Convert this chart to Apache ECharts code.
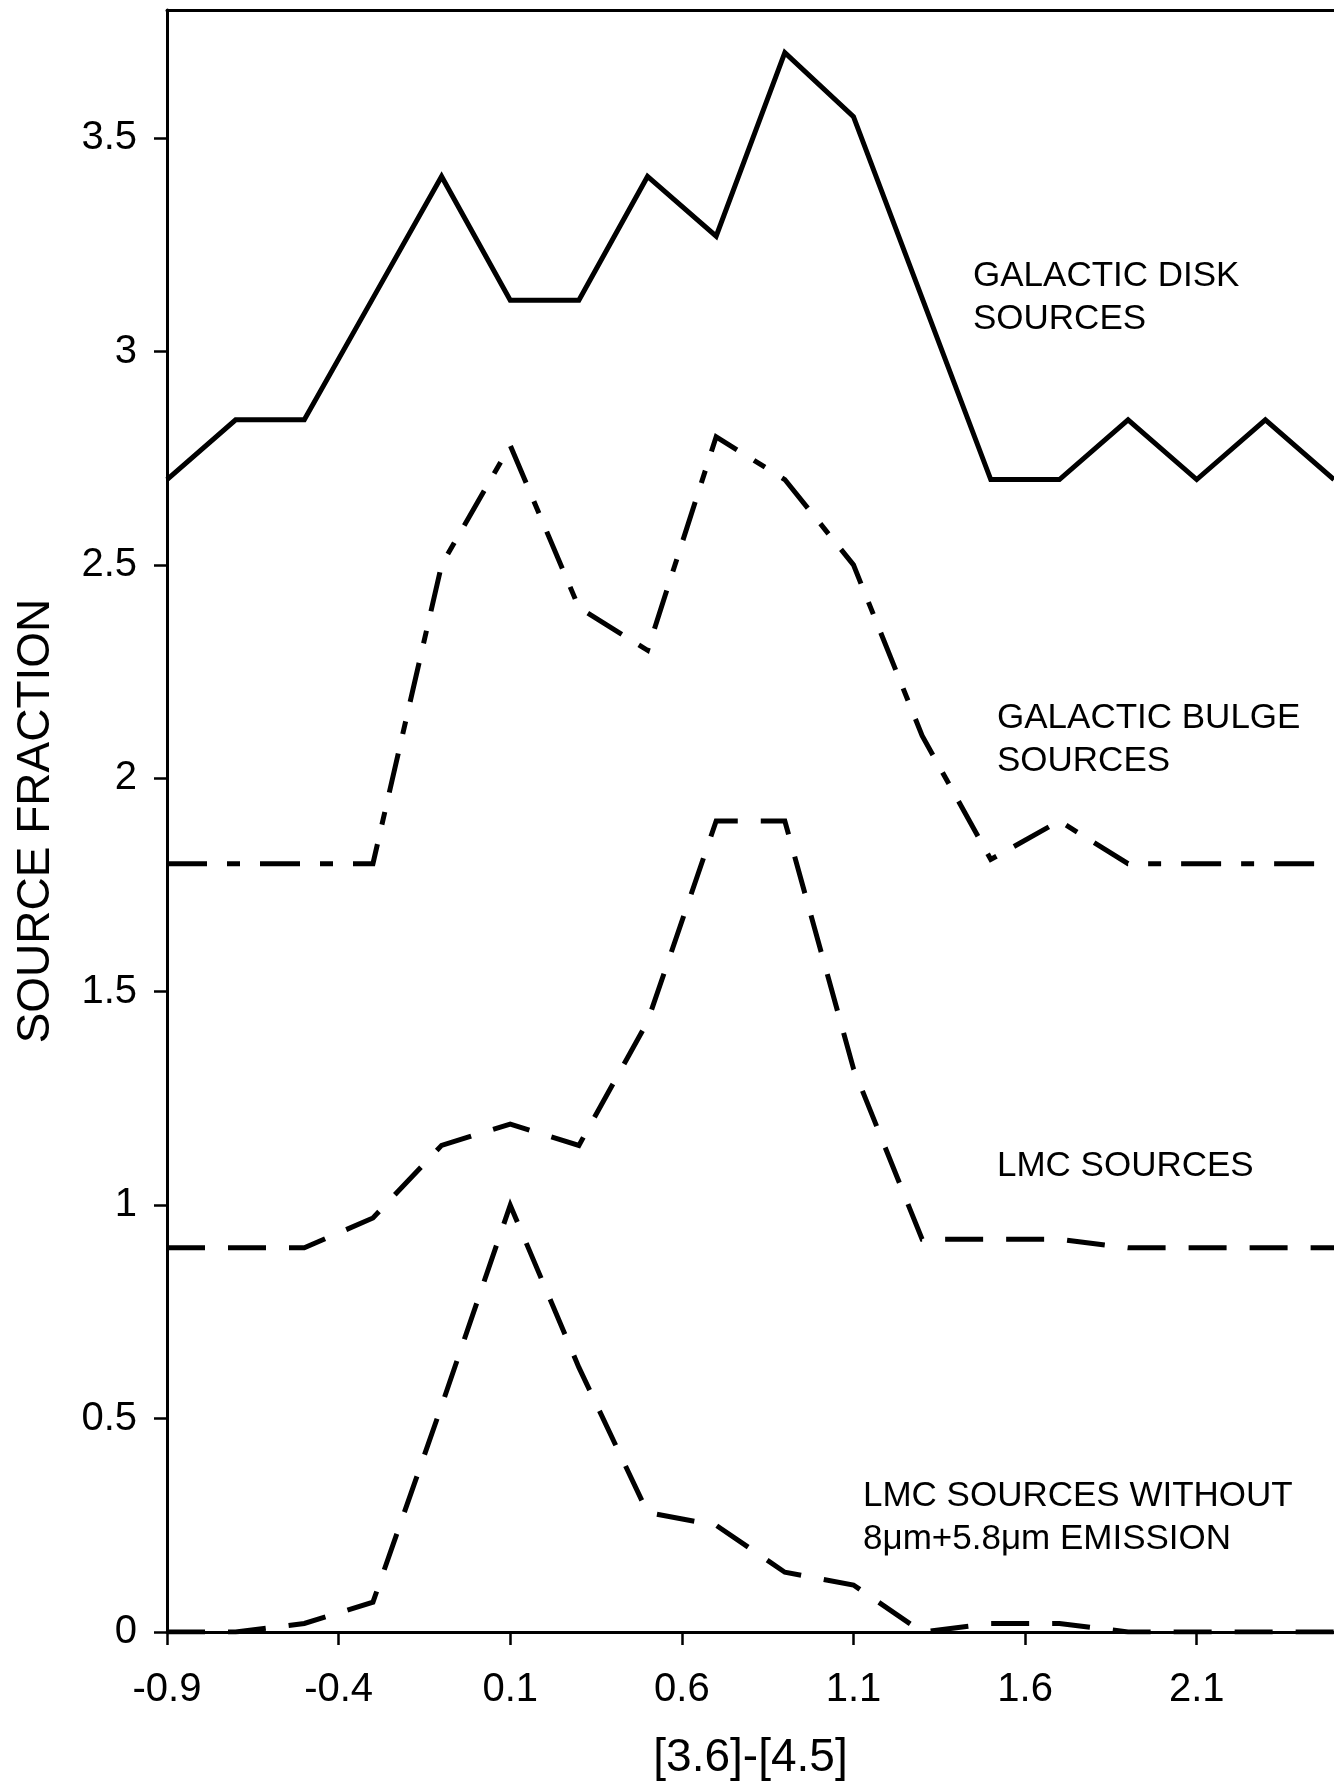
<!DOCTYPE html>
<html><head><meta charset="utf-8">
<script src="https://cdn.jsdelivr.net/npm/echarts@6/dist/echarts.min.js"></script>
<style>html,body{margin:0;padding:0;background:#fff}#c{width:1334px;height:1792px}</style>
</head><body><div id="c"></div>
<script>
const xValues = [-0.9,-0.7,-0.5,-0.3,-0.1,0.1,0.3,0.5,0.7,0.9,1.1,1.3,1.5,1.7,1.9,2.1,2.3,2.5];
const diskSources = [2.70,2.84,2.84,3.125,3.41,3.12,3.12,3.41,3.27,3.70,3.55,3.125,2.70,2.70,2.84,2.70,2.84,2.70];
const bulgeSources = [1.80,1.80,1.80,1.80,2.50,2.78,2.40,2.30,2.80,2.70,2.50,2.10,1.81,1.90,1.80,1.80,1.80,1.80];
const lmcSources = [0.90,0.90,0.90,0.97,1.14,1.19,1.14,1.43,1.90,1.90,1.32,0.92,0.92,0.92,0.90,0.90,0.90,0.90];
const lmcNoEmission = [0,0,0.02,0.07,0.53,1.00,0.62,0.28,0.25,0.14,0.11,0,0.02,0.02,0,0,0,0];
const xTicks = [-0.9,-0.4,0.1,0.6,1.1,1.6,2.1];
const yTicks = [0,0.5,1,1.5,2,2.5,3,3.5];
const xTitle = '[3.6]-[4.5]';
const yTitle = 'SOURCE FRACTION';
const notes = ['GALACTIC DISK\nSOURCES','GALACTIC BULGE\nSOURCES','LMC SOURCES','LMC SOURCES WITHOUT\n8\u03bcm+5.8\u03bcm EMISSION'];

const FONT = '"Liberation Sans", Arial, sans-serif';
const pairs = arr => xValues.map((x, i) => [x, arr[i]]);
const lineSeries = (name, arr, dash) => ({
  name, type: 'line', data: pairs(arr), showSymbol: false, symbol: 'none',
  lineStyle: { color: '#000', width: 5, type: dash, cap: 'butt', join: 'miter' },
  emphasis: { disabled: true }, silent: true, animation: false
});
const noteText = (text, left, top) => ({
  type: 'text', left, top, silent: true,
  style: { text, fill: '#000', font: '35px ' + FONT, lineHeight: 43 }
});

const chart = echarts.init(document.getElementById('c'), null, { renderer: 'canvas' });
chart.setOption({
  animation: false,
  backgroundColor: '#fff',
  grid: { left: 167, right: 0, top: 10, bottom: 160, containLabel: false },
  xAxis: [{
    type: 'value', min: -0.9, max: 2.5,
    name: xTitle, nameLocation: 'middle', nameGap: 103,
    nameTextStyle: { fontFamily: FONT, fontSize: 46, color: '#000' },
    axisLine: { show: true, onZero: false, lineStyle: { color: '#000', width: 3 } },
    axisTick: { show: true, inside: false, length: 13, lineStyle: { color: '#000', width: 2.5 }, customValues: xTicks },
    axisLabel: { color: '#000', fontFamily: FONT, fontSize: 40, margin: 38, customValues: xTicks,
      formatter: v => String(Math.round(v * 10) / 10) },
    splitLine: { show: false }
  }, {
    type: 'value', min: -0.9, max: 2.5, position: 'top',
    axisLine: { show: true, onZero: false, lineStyle: { color: '#000', width: 3 } },
    axisTick: { show: false }, axisLabel: { show: false }, splitLine: { show: false }
  }],
  yAxis: {
    type: 'value', min: 0, max: 3.8,
    name: yTitle, nameLocation: 'middle', nameGap: 108, nameRotate: 90,
    nameTextStyle: { fontFamily: FONT, fontSize: 46, color: '#000' },
    axisLine: { show: true, onZero: false, lineStyle: { color: '#000', width: 3 } },
    axisTick: { show: true, inside: false, length: 13, lineStyle: { color: '#000', width: 2.5 }, customValues: yTicks },
    axisLabel: { color: '#000', fontFamily: FONT, fontSize: 40, margin: 30, customValues: yTicks,
      formatter: v => String(Math.round(v * 10) / 10) },
    splitLine: { show: false }
  },
  series: [
    lineSeries('Galactic disk', diskSources, 'solid'),
    lineSeries('Galactic bulge', bulgeSources, [40, 20, 13, 20]),
    lineSeries('LMC', lmcSources, [38, 23]),
    lineSeries('LMC without emission', lmcNoEmission, [38, 23])
  ],
  graphic: [
    noteText(notes[0], 973, 255),
    noteText(notes[1], 997, 697),
    noteText(notes[2], 997, 1145),
    noteText(notes[3], 863, 1475)
  ]
});
</script></body></html>
